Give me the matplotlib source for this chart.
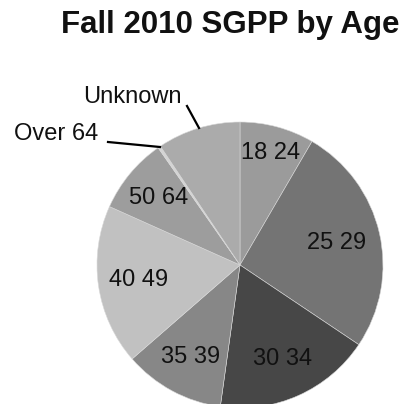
import numpy as np
import matplotlib
matplotlib.use("Agg")
import matplotlib.pyplot as plt

categories = ["18 24", "25 29", "30 34", "35 39", "40 49", "50 64", "Over 64", "Unknown"]
values = [8.4, 26.0, 17.8, 11.4, 18.1, 8.6, 0.3, 9.4]
colors = ["#9b9b9b", "#747474", "#474747", "#878787", "#c1c1c1", "#9d9d9d", "#d4d4d4", "#ababab"]
title = "Fall 2010 SGPP by Age"

plt.rcParams["font.family"] = ["Liberation Sans", "DejaVu Sans"]

W, H = 402, 404
fig = plt.figure(figsize=(W / 100, H / 100), dpi=100)
ax = fig.add_axes([0, 0, 1, 1])
R = 143.0
cx, cy = 240.0, 265.0

wedges, _ = ax.pie(values, colors=colors, startangle=90, counterclock=False,
                   radius=1.0, center=(0, 0), frame=True,
                   wedgeprops=dict(linewidth=0.4, edgecolor="#d8d8d8"))
ax.set_xlim(-cx / R, (W - cx) / R)
ax.set_ylim(-(H - cy) / R, cy / R)
ax.axis("off")

total = sum(values)
cum = np.cumsum([0] + values[:-1])
dists = [0.81, 0.69, 0.72, 0.73, 0.72, 0.74]
for i, d in enumerate(dists):
    mid = 90 - (cum[i] + values[i] / 2) / total * 360
    a = np.deg2rad(mid)
    ax.text(d * np.cos(a), d * np.sin(a), categories[i], ha="center", va="center",
            fontsize=17, color="#111111")

def px(x, y):
    return ((x - cx) / R, (cy - y) / R)

ax.text(*px(132, 97), categories[7], ha="center", va="center", fontsize=17, color="#111111")
ax.plot(*zip(px(187, 106), px(199, 128)), color="black", lw=1.6)
ax.text(*px(56, 134), categories[6], ha="center", va="center", fontsize=17, color="#111111")
ax.plot(*zip(px(108, 142), px(160, 147)), color="black", lw=1.6)

fig.text(230 / W, 1 - 33 / H, title, ha="center", va="baseline", fontsize=22.5,
         fontweight="bold", color="#111111")

fig.savefig("out.png", dpi=100)
